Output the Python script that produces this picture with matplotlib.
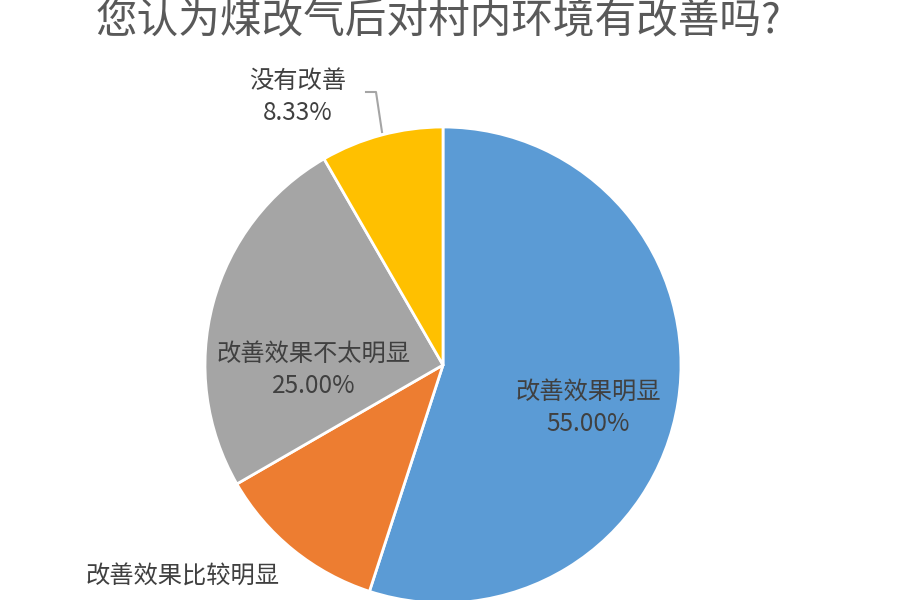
import matplotlib
matplotlib.use('Agg')
import matplotlib.pyplot as plt

plt.rcParams['font.family'] = ['Noto Sans CJK SC', 'DejaVu Sans']

# 数据
categorias = ['改善效果明显', '改善效果比较明显', '改善效果不太明显', '没有改善']
valores = [55.00, 11.67, 25.00, 8.33]
colores = ['#5B9BD5', '#ED7D31', '#A5A5A5', '#FFC000']
titulo = '您认为煤改气后对村内环境有改善吗?'

fig = plt.figure(figsize=(9, 6), dpi=100)
ax = fig.add_axes([0, 0, 1, 1])

# pie en coordenadas de pixel (y hacia arriba)
cx, cy, r = 443, 600 - 365, 238
wedges, _ = ax.pie(valores, colors=colores, startangle=90, counterclock=False,
                   center=(cx, cy), radius=r, frame=True,
                   wedgeprops=dict(edgecolor='white', linewidth=2))
ax.set_xlim(0, 900)
ax.set_ylim(0, 600)
ax.set_aspect('equal')
ax.axis('off')

txt = '#404040'
fs = 17.5
# etiquetas
ax.text(588, 600 - 408, categorias[0] + '\n' + f'{valores[0]:.2f}%', ha='center', va='center',
        fontsize=fs, color=txt, linespacing=1.3)
ax.text(314, 600 - 370, categorias[2] + '\n' + f'{valores[2]:.2f}%', ha='center', va='center',
        fontsize=fs, color=txt, linespacing=1.3)
ax.text(298, 600 - 97, categorias[3] + '\n' + f'{valores[3]:.2f}%', ha='center', va='center',
        fontsize=fs, color=txt, linespacing=1.3)
# la etiqueta inferior: el porcentaje queda fuera de la imagen
ax.text(183, 600 - 577, categorias[1], ha='center', va='center',
        fontsize=fs, color=txt)

# linea guia de "没有改善"
ax.plot([366, 376, 382], [600 - 92, 600 - 92, 600 - 132], color='#A5A5A5', lw=1.5)

fig.text(438 / 900, 1 - 22 / 600, titulo, ha='center', va='center', fontsize=30, color='#595959')

fig.savefig('out.png', dpi=100)
